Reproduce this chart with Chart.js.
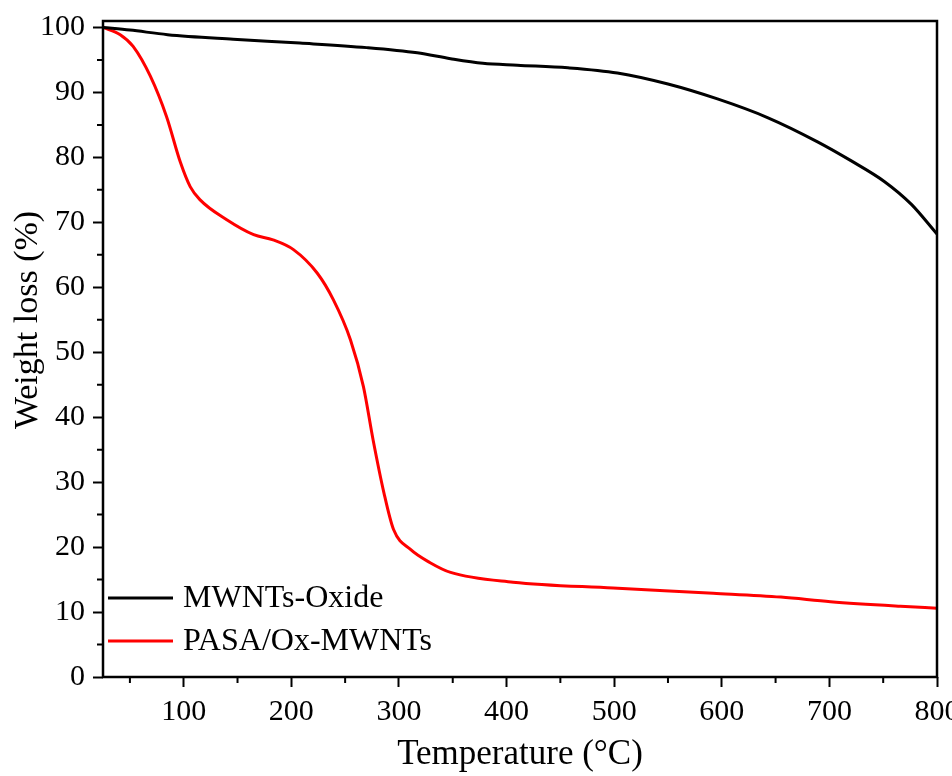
<!DOCTYPE html>
<html>
<head>
<meta charset="utf-8">
<script src="https://cdn.jsdelivr.net/npm/chart.js@4.4.1/dist/chart.umd.min.js"></script>
<style>
  html, body { margin: 0; padding: 0; background: #fff; }
  #wrap { width: 952px; height: 776px; }
</style>
</head>
<body>
<div id="wrap"><canvas id="tga"></canvas></div>
<script>
// ---- data ----
const oxideTemp   = [25, 50, 85, 146, 208, 270, 317, 348, 378, 410, 457, 503, 550, 596, 643, 689, 720, 751, 776, 800];
const oxideWeight = [100.0, 99.6, 98.9, 98.2, 97.6, 96.9, 96.1, 95.2, 94.5, 94.2, 93.8, 93.0, 91.3, 89.0, 86.1, 82.4, 79.5, 76.3, 72.8, 68.2];

const pasaTemp   = [25, 41, 53, 69, 84, 97, 106, 115, 140, 165, 183, 202, 224, 239, 255, 267, 276, 286, 295, 311, 329, 348, 406, 499, 592, 655, 701, 766, 800];
const pasaWeight = [100.0, 98.9, 97.1, 92.5, 86.3, 79.2, 75.5, 73.5, 70.4, 68.1, 67.3, 65.8, 62.2, 58.1, 51.9, 44.7, 36.5, 28.4, 22.7, 19.6, 17.6, 16.1, 14.6, 13.7, 12.9, 12.3, 11.6, 10.9, 10.6];

const xTicks = [100, 200, 300, 400, 500, 600, 700, 800];
const xMinorTicks = [50, 150, 250, 350, 450, 550, 650, 750];
const yTicks = [0, 10, 20, 30, 40, 50, 60, 70, 80, 90, 100];
const yMinorTicks = [5, 15, 25, 35, 45, 55, 65, 75, 85, 95];

const seriesNames = ['MWNTs-Oxide', 'PASA/Ox-MWNTs'];
const seriesColors = ['#000000', '#ff0000'];
const yTitle = 'Weight loss (%)';

function toPoints(xs, ys) {
    return xs.map((x, i) => ({x: x, y: ys[i]}));
}

Chart.defaults.font.family = '"Liberation Serif", "Times New Roman", serif';
Chart.defaults.color = '#000';

// frame, minor ticks, y title and the in-plot legend
const framePlugin = {
    id: 'frame',
    afterDraw(chart) {
        const ctx = chart.ctx;
        const area = chart.chartArea;
        const xs = chart.scales.x, ys = chart.scales.y;
        ctx.save();
        ctx.strokeStyle = '#000';
        ctx.lineWidth = 2.5;
        ctx.strokeRect(area.left, area.top, area.right - area.left, area.bottom - area.top);

        ctx.lineWidth = 2;
        ctx.beginPath();
        xMinorTicks.forEach(v => {
            const px = xs.getPixelForValue(v);
            ctx.moveTo(px, area.bottom);
            ctx.lineTo(px, area.bottom + 6);
        });
        yMinorTicks.forEach(v => {
            const py = ys.getPixelForValue(v);
            ctx.moveTo(area.left, py);
            ctx.lineTo(area.left - 6, py);
        });
        ctx.stroke();

        // y axis title (sits a little above the middle in the original)
        ctx.save();
        ctx.translate(28, 320);
        ctx.rotate(-Math.PI / 2);
        ctx.font = '34px "Liberation Serif", serif';
        ctx.textAlign = 'center';
        ctx.textBaseline = 'middle';
        ctx.fillStyle = '#000';
        ctx.fillText(yTitle, 0, 0);
        ctx.restore();

        // legend
        ctx.font = '32px "Liberation Serif", serif';
        ctx.textBaseline = 'middle';
        ctx.textAlign = 'left';
        seriesNames.forEach((name, i) => {
            const y = 598 + i * 43;
            ctx.strokeStyle = seriesColors[i];
            ctx.lineWidth = 3;
            ctx.beginPath();
            ctx.moveTo(area.left + 5, y);
            ctx.lineTo(area.left + 70, y);
            ctx.stroke();
            ctx.fillStyle = '#000';
            ctx.fillText(name, area.left + 80, y + 1);
        });
        ctx.restore();
    }
};

new Chart(document.getElementById('tga').getContext('2d'), {
    type: 'line',
    data: {
        datasets: [
            {
                label: seriesNames[0],
                data: toPoints(oxideTemp, oxideWeight),
                borderColor: seriesColors[0],
                borderWidth: 3,
                pointRadius: 0,
                cubicInterpolationMode: 'monotone',
                fill: false
            },
            {
                label: seriesNames[1],
                data: toPoints(pasaTemp, pasaWeight),
                borderColor: seriesColors[1],
                borderWidth: 3,
                pointRadius: 0,
                cubicInterpolationMode: 'monotone',
                fill: false
            }
        ]
    },
    options: {
        responsive: true,
        maintainAspectRatio: false,
        animation: false,
        layout: { padding: { top: 21, right: 15, left: 0, bottom: 0 } },
        plugins: {
            legend: { display: false },
            tooltip: { enabled: false }
        },
        scales: {
            x: {
                type: 'linear',
                min: 25,
                max: 800,
                afterBuildTicks: s => { s.ticks = xTicks.map(v => ({value: v})); },
                afterFit: s => { s.height = 99; s.paddingLeft = 0; s.paddingRight = 0; },
                border: { display: false },
                grid: { drawOnChartArea: false, tickLength: 10, tickWidth: 2, tickColor: '#000' },
                ticks: { font: { size: 30 }, padding: 7, maxRotation: 0 },
                title: { display: true, text: 'Temperature (°C)', font: { size: 35 }, padding: { top: 0, bottom: 0 } }
            },
            y: {
                min: 0,
                max: 101,
                afterBuildTicks: s => { s.ticks = yTicks.map(v => ({value: v})); },
                afterFit: s => { s.width = 103; s.paddingTop = 0; s.paddingBottom = 0; },
                border: { display: false },
                grid: { drawOnChartArea: false, tickLength: 10, tickWidth: 2, tickColor: '#000' },
                ticks: { font: { size: 30 }, padding: 8 },
                title: { display: false }
            }
        }
    },
    plugins: [framePlugin]
});
</script>
</body>
</html>
